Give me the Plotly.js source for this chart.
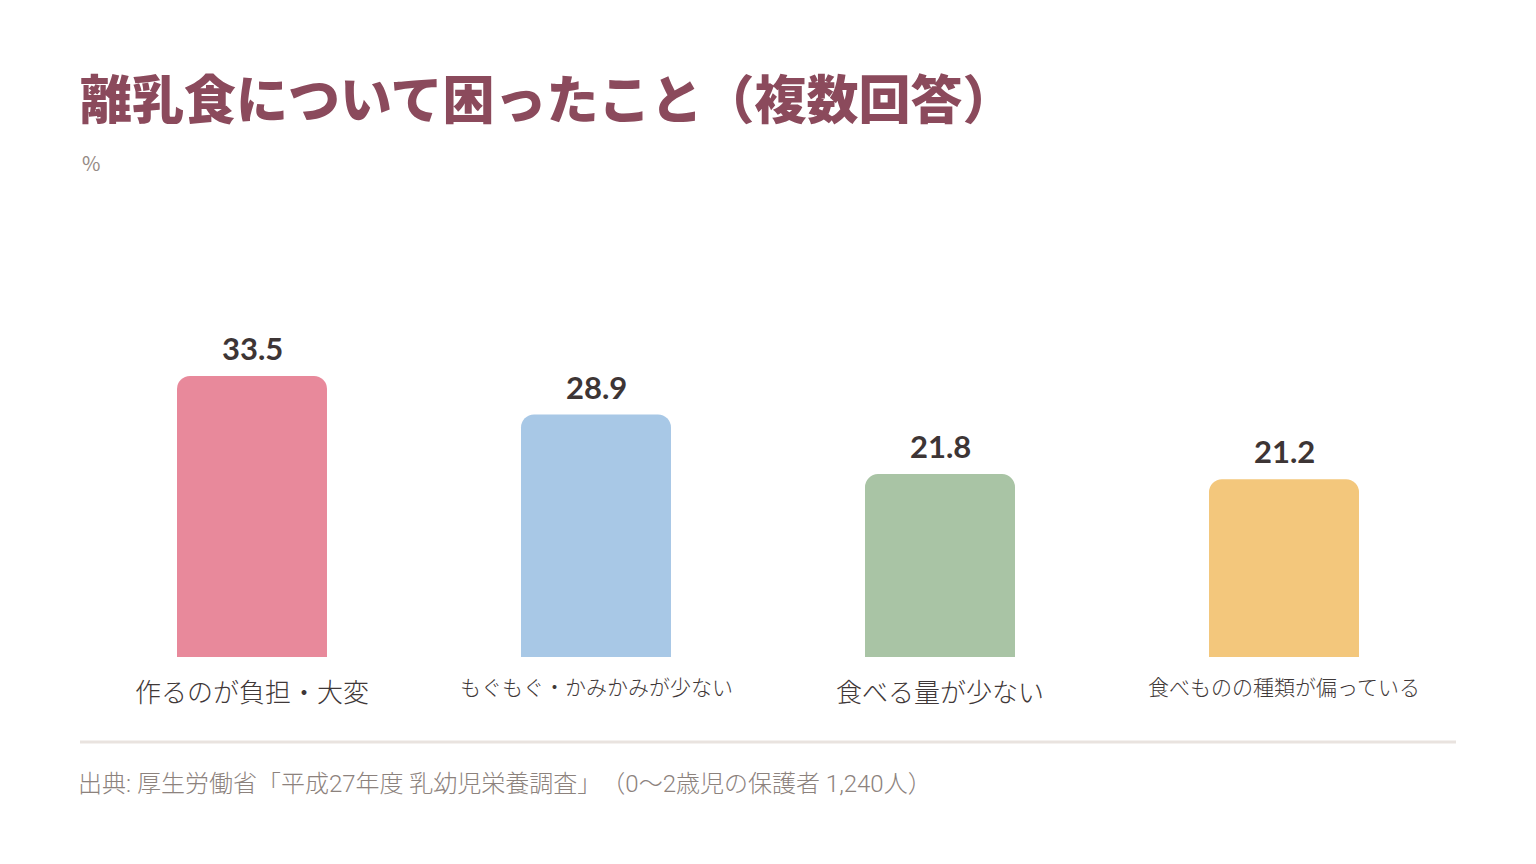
<!DOCTYPE html>
<html>
<head>
<meta charset="utf-8">
<script src="https://cdn.plot.ly/plotly-3.0.1.min.js"></script>
<style>
html,body{margin:0;padding:0;background:#fff;}
#chart{width:1536px;height:864px;}
#chart, #chart text, #chart tspan { text-spacing-trim: space-all; }
</style>
</head>
<body>
<div id="chart"></div>
<script>
const categories = ["作るのが負担・大変", "もぐもぐ・かみかみが少ない", "食べる量が少ない", "食べものの種類が偏っている"];
const values = [33.5, 28.9, 21.8, 21.2];
const barColors = ["#E8899B", "#A8C8E6", "#A9C4A5", "#F3C77C"];
const labelSizes = [26, 21, 26, 21];
const titleText = "離乳食について困ったこと（複数回答）";
const unitText = "%";
const sourceText = "出典: 厚生労働省「平成27年度 乳幼児栄養調査」（0〜2歳児の保護者 1,240人）";

const W = 1536, H = 864;
const mL = 80, mR = 1536 - 1456, mT = 200, mB = 864 - 657;
const plotH = H - mT - mB;
const yMax = plotH / 8.39;

const trace = {
  type: "bar",
  x: categories,
  y: values,
  marker: {color: barColors, line: {width: 0}},
  hoverinfo: "none"
};

const annotations = [];
categories.forEach((c, i) => {
  annotations.push({
    x: c, y: values[i], xref: "x", yref: "y",
    text: values[i].toFixed(1),
    showarrow: false, yanchor: "bottom", yshift: 7,
    font: {family: "Lato, 'Noto Sans', sans-serif", size: 31, color: "#3D3535", weight: 700}
  });
  annotations.push({
    x: c, y: 0, xref: "x", yref: "paper",
    text: c,
    showarrow: false, yanchor: "middle", yshift: -33 + (labelSizes[i] < 25 ? 4 : 0),
    font: {family: "'Noto Sans CJK JP', sans-serif", size: labelSizes[i], color: "#3F3838", weight: 300}
  });
});
annotations.push({
  x: mL / W, y: 1 - 163 / H, xref: "paper", yref: "paper",
  xanchor: "left", yanchor: "middle", showarrow: false,
  text: unitText,
  font: {family: "'Noto Sans CJK JP', sans-serif", size: 20, color: "#958A85", weight: 400}
});
annotations.push({
  x: (mL + 2) / W, y: 1 - 784 / H, xref: "paper", yref: "paper",
  xanchor: "left", yanchor: "middle", showarrow: false,
  text: sourceText,
  font: {family: "Roboto, 'Noto Sans CJK JP', sans-serif", size: 24, color: "#8C827D", weight: 300}
});

annotations.forEach(a => {
  if (a.xref === "paper" && a.yref === "paper") {
    const px = a.x * W, py = (1 - a.y) * H;
    a.x = (px - mL) / (W - mL - mR);
    a.y = (H - mB - py) / plotH;
  }
});

const layout = {
  width: W, height: H,
  margin: {l: mL, r: mR, t: mT, b: mB, pad: 0},
  paper_bgcolor: "#FFFFFF",
  plot_bgcolor: "#FFFFFF",
  showlegend: false,
  bargap: 0.564,
  barcornerradius: 13,
  title: {
    text: titleText,
    xref: "container", yref: "container",
    x: mL / W, xanchor: "left",
    y: 1 - 101 / H, yanchor: "middle",
    font: {family: "'Noto Sans CJK JP', sans-serif", size: 52, color: "#8B4A5C", weight: 900}
  },
  xaxis: {
    showticklabels: false, showgrid: false, zeroline: false, showline: false,
    ticks: "", fixedrange: true
  },
  yaxis: {
    range: [0, yMax], visible: false, showgrid: false, zeroline: false, fixedrange: true
  },
  shapes: [{
    type: "line", xref: "paper", yref: "paper",
    x0: 0, x1: 1,
    y0: (H - mB - 742) / plotH, y1: (H - mB - 742) / plotH,
    line: {color: "#E9E3DF", width: 3}
  }],
  annotations: annotations
};

Plotly.newPlot("chart", [trace], layout, {displayModeBar: false, staticPlot: true});
</script>
</body>
</html>
